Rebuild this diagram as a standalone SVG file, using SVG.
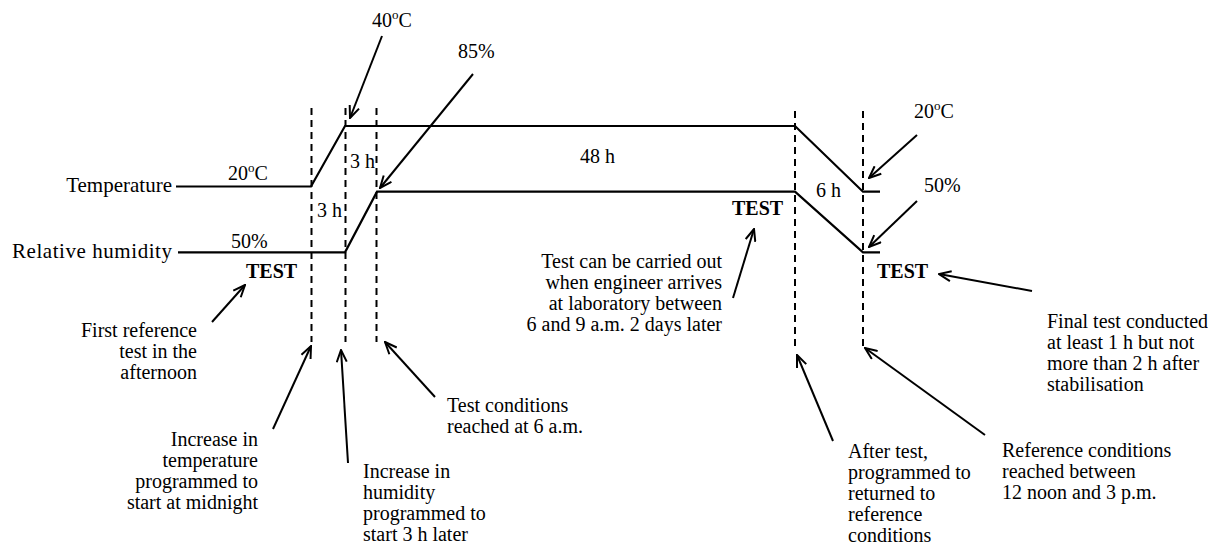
<svg xmlns="http://www.w3.org/2000/svg" width="1208" height="544" viewBox="0 0 1208 544">
<defs>
<style>
text{font-family:"Liberation Serif","Times New Roman",serif;font-size:20px;fill:#000}
.ax{font-size:21px}
.b{font-weight:bold}
.e{text-anchor:end}
.curve{fill:none;stroke:#000;stroke-width:2.2}
.dash{fill:none;stroke:#000;stroke-width:2;stroke-dasharray:7 5}
.arr{fill:none;stroke:#000;stroke-width:2;marker-end:url(#ah)}
</style>
<marker id="ah" viewBox="0 0 14 12" refX="13" refY="6" markerWidth="14" markerHeight="12" markerUnits="userSpaceOnUse" orient="auto">
<path d="M1,1 L13,6 L1,11" fill="none" stroke="#000" stroke-width="2"/>
</marker>
</defs>
<rect width="1208" height="544" fill="#fff"/>

<g id="temperature">
<text class="ax e" x="172" y="192">Temperature</text>
<polyline class="curve" points="176,186.5 311,186.5 345,126 795,126 863,191.7 880,191.7"/>
<text x="228" y="180">20<tspan font-size="13" dy="-8">o</tspan><tspan dy="8">C</tspan></text>
<text x="372" y="27">40<tspan font-size="13" dy="-8">o</tspan><tspan dy="8">C</tspan></text>
<text x="914" y="118">20<tspan font-size="13" dy="-8">o</tspan><tspan dy="8">C</tspan></text>
</g>

<g id="humidity">
<text class="ax" x="12" y="258" textLength="160" lengthAdjust="spacing">Relative humidity</text>
<polyline class="curve" points="178,252.3 345,252.3 377,191.7 795,191.7 863,252.3 880,252.3"/>
<text x="231" y="248">50%</text>
<text x="458" y="58">85%</text>
<text x="924" y="192">50%</text>
</g>

<g id="markers">
<line class="dash" x1="311.5" y1="108" x2="311.5" y2="342"/>
<line class="dash" x1="345.5" y1="108" x2="345.5" y2="342"/>
<line class="dash" x1="376.5" y1="108" x2="376.5" y2="342"/>
<line class="dash" x1="795" y1="111" x2="795" y2="347"/>
<line class="dash" x1="863" y1="111" x2="863" y2="347"/>
</g>

<g id="durations">
<text x="350" y="168">3 h</text>
<text x="317" y="217">3 h</text>
<text x="580" y="163">48 h</text>
<text x="816" y="197">6 h</text>
</g>

<g id="tests">
<text class="b" x="246" y="278">TEST</text>
<text class="b" x="732" y="215">TEST</text>
<text class="b" x="877" y="278">TEST</text>
</g>

<g id="note-first">
<text class="e" x="197"><tspan x="197" y="337">First reference</tspan><tspan x="197" y="358">test in the</tspan><tspan x="197" y="379">afternoon</tspan></text>
</g>
<g id="note-temp">
<text class="e"><tspan x="258" y="446">Increase in</tspan><tspan x="258" y="467">temperature</tspan><tspan x="258" y="487.5">programmed to</tspan><tspan x="258" y="508.5">start at midnight</tspan></text>
</g>
<g id="note-hum">
<text><tspan x="363" y="478">Increase in</tspan><tspan x="363" y="499">humidity</tspan><tspan x="363" y="520">programmed to</tspan><tspan x="363" y="541">start 3 h later</tspan></text>
</g>
<g id="note-reached">
<text><tspan x="447" y="412">Test conditions</tspan><tspan x="447" y="433">reached at 6 a.m.</tspan></text>
</g>
<g id="note-engineer">
<text class="e"><tspan x="722" y="267.5">Test can be carried out</tspan><tspan x="722" y="288.5">when engineer arrives</tspan><tspan x="722" y="309.5">at laboratory between</tspan><tspan x="722" y="330.5">6 and 9 a.m. 2 days later</tspan></text>
</g>
<g id="note-after">
<text><tspan x="848" y="458">After test,</tspan><tspan x="848" y="479">programmed to</tspan><tspan x="848" y="500">returned to</tspan><tspan x="848" y="521">reference</tspan><tspan x="848" y="542">conditions</tspan></text>
</g>
<g id="note-reference">
<text><tspan x="1002" y="457">Reference conditions</tspan><tspan x="1002" y="478">reached between</tspan><tspan x="1002" y="499">12 noon and 3 p.m.</tspan></text>
</g>
<g id="note-final">
<text font-size="19"><tspan x="1047" y="328">Final test conducted</tspan><tspan x="1047" y="349">at least 1 h but not</tspan><tspan x="1047" y="370">more than 2 h after</tspan><tspan x="1047" y="391">stabilisation</tspan></text>
</g>

<g id="connectors">
<line class="arr" x1="382" y1="36" x2="350" y2="118"/>
<line class="arr" x1="473" y1="74" x2="380" y2="188"/>
<line class="arr" x1="917" y1="135" x2="869" y2="178"/>
<line class="arr" x1="917" y1="201" x2="869" y2="247"/>
<line class="arr" x1="1032" y1="291" x2="939" y2="274"/>
<line class="arr" x1="733" y1="298" x2="754" y2="229"/>
<line class="arr" x1="212" y1="322" x2="245" y2="285"/>
<line class="arr" x1="273" y1="429" x2="311" y2="346"/>
<line class="arr" x1="348" y1="463" x2="341" y2="350"/>
<line class="arr" x1="435" y1="397" x2="385" y2="342"/>
<line class="arr" x1="833" y1="441" x2="797" y2="355"/>
<line class="arr" x1="985" y1="435" x2="865" y2="348"/>
</g>
</svg>
